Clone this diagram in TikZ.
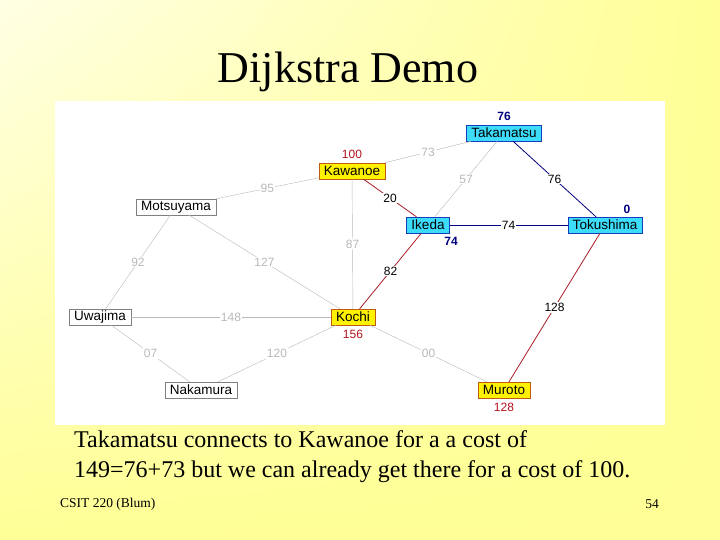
\documentclass[tikz,border=0pt]{standalone}
\usepackage{fontspec}
\setmainfont{Liberation Serif}
\newfontfamily\graphfont{Liberation Sans}
\usetikzlibrary{shadings}
\definecolor{slidelight}{RGB}{255,255,228}
\definecolor{slidedark}{RGB}{255,255,150}
\definecolor{edgegray}{RGB}{185,185,185}
\definecolor{edgered}{RGB}{170,30,40}
\definecolor{edgeblue}{RGB}{0,0,128}
\definecolor{citycyan}{RGB}{60,220,250}
\definecolor{cityblue}{RGB}{20,60,190}
\definecolor{cityorange}{RGB}{190,90,20}
\definecolor{costred}{RGB}{180,20,30}

\begin{document}
\begin{tikzpicture}[x=1pt,y=-1pt,
  city/.style={draw=gray,fill=white,font=\graphfont\fontsize{13.5}{13.5}\selectfont,
    inner xsep=5pt,inner ysep=1pt,minimum height=16pt},
  seen/.style={city,draw=cityblue,fill=citycyan},
  near/.style={city,draw=cityorange,fill=yellow},
  weight/.style={fill=white,inner sep=1pt,font=\graphfont\fontsize{12}{12}\selectfont},
  grayedge/.style={draw=edgegray},
  rededge/.style={draw=edgered,line width=0.8pt},
  blueedge/.style={draw=edgeblue,line width=0.8pt},
  cost/.style={font=\graphfont\fontsize{12}{12}\selectfont}]
\useasboundingbox (0,0) rectangle (720,540);
\shade[upper left=slidelight,upper right=slidedark,lower left=slidedark,lower right=slidedark]
  (0,0) rectangle (720,540);
\fill[white] (55,101) rectangle (665,425);

\node[font=\fontsize{44}{50}\selectfont] (title) at (348,72) {Dijkstra Demo};

% the towns
\node[seen] (takamatsu) at (504,133) {Takamatsu};
\node[near] (kawanoe) at (352,171) {Kawanoe};
\node[city] (motsuyama) at (176,207) {Motsuyama};
\node[seen] (ikeda) at (428,225) {Ikeda};
\node[seen] (tokushima) at (605,225) {Tokushima};
\node[city] (uwajima) at (100,317) {Uwajima};
\node[near] (kochi) at (353,317) {Kochi};
\node[city] (nakamura) at (201,390) {Nakamura};
\node[near] (muroto) at (504,390) {Muroto};

% roads
\draw[grayedge] (motsuyama) -- node[weight,text=edgegray] {95} (kawanoe);
\draw[grayedge] (kawanoe) -- node[weight,text=edgegray] {73} (takamatsu);
\draw[grayedge] (takamatsu) -- node[weight,text=edgegray] {57} (ikeda);
\draw[grayedge] (kawanoe) -- node[weight,text=edgegray] {87} (kochi);
\draw[grayedge] (motsuyama) -- node[weight,text=edgegray] {92} (uwajima);
\draw[grayedge] (motsuyama) -- node[weight,text=edgegray] {127} (kochi);
\draw[grayedge] (uwajima) -- node[weight,text=edgegray] {148} (kochi);
\draw[grayedge] (uwajima) -- node[weight,text=edgegray] {07} (nakamura);
\draw[grayedge] (nakamura) -- node[weight,text=edgegray] {120} (kochi);
\draw[grayedge] (kochi) -- node[weight,text=edgegray] {00} (muroto);
\draw[rededge] (kawanoe) -- node[weight] {20} (ikeda);
\draw[rededge] (ikeda) -- node[weight] {82} (kochi);
\draw[rededge] (tokushima) -- node[weight] {128} (muroto);
\draw[blueedge] (takamatsu) -- node[weight] {76} (tokushima);
\draw[blueedge] (ikeda) -- node[weight] {74} (tokushima);

% best costs so far
\node[cost,text=edgeblue] (ctakamatsu) at (504,116) {\textbf{76}};
\node[cost,text=costred] (ckawanoe) at (352,154) {100};
\node[cost,text=edgeblue] (cikeda) at (451,241) {\textbf{74}};
\node[cost,text=edgeblue] (ctokushima) at (627,209) {\textbf{0}};
\node[cost,text=costred] (ckochi) at (353,334) {156};
\node[cost,text=costred] (cmuroto) at (504,407) {128};

\node[anchor=north west,align=left,font=\fontsize{24}{30}\selectfont,inner sep=0pt]
  (note) at (74,430) {Takamatsu connects to Kawanoe for a a cost of\\
  149=76+73 but we can already get there for a cost of 100.};
\node[anchor=west,font=\fontsize{13.5}{13.5}\selectfont,inner sep=0pt] (course) at (60,504) {CSIT 220 (Blum)};
\node[anchor=east,font=\fontsize{13.5}{13.5}\selectfont,inner sep=0pt] (page) at (659,504) {54};
\end{tikzpicture}
\end{document}
